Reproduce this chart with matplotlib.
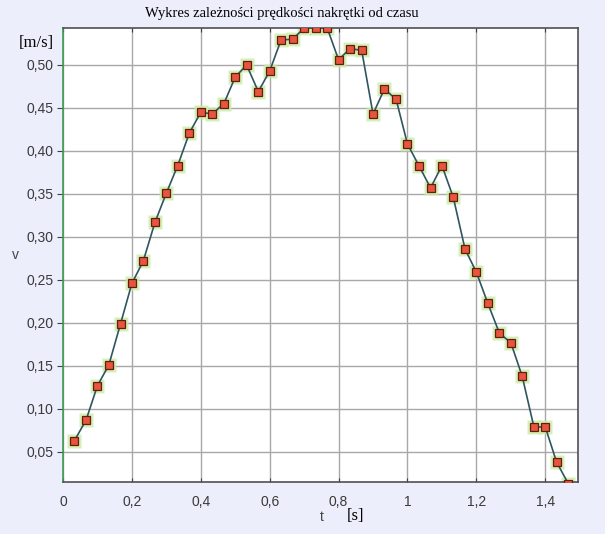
import matplotlib
matplotlib.use('Agg')
import matplotlib.pyplot as plt

# czas [s] i predkosc [m/s]
t = [0.033, 0.067, 0.100, 0.133, 0.167, 0.200, 0.233, 0.267, 0.300, 0.333,
     0.367, 0.400, 0.433, 0.467, 0.500, 0.533, 0.567, 0.600, 0.633, 0.667,
     0.700, 0.733, 0.767, 0.800, 0.833, 0.867, 0.900, 0.933, 0.967, 1.000,
     1.033, 1.067, 1.100, 1.133, 1.167, 1.200, 1.233, 1.267, 1.300, 1.333,
     1.367, 1.400, 1.433, 1.467]
v = [0.063, 0.087, 0.127, 0.151, 0.199, 0.246, 0.272, 0.317, 0.351, 0.383,
     0.421, 0.445, 0.443, 0.455, 0.486, 0.500, 0.469, 0.493, 0.529, 0.530,
     0.543, 0.543, 0.543, 0.506, 0.519, 0.517, 0.443, 0.472, 0.460, 0.408,
     0.383, 0.357, 0.383, 0.346, 0.286, 0.259, 0.223, 0.188, 0.177, 0.138,
     0.079, 0.079, 0.038, 0.013]

xticks = [0, 0.2, 0.4, 0.6, 0.8, 1.0, 1.2, 1.4]
yticks = [0.05, 0.10, 0.15, 0.20, 0.25, 0.30, 0.35, 0.40, 0.45, 0.50]

bg = '#ECEEFB'
fig = plt.figure(figsize=(6.05, 5.34), dpi=100, facecolor=bg)
ax = fig.add_axes([63/605, 1 - 482/534, (578 - 63)/605, (482 - 28)/534])
ax.set_facecolor('white')

# zielona poswiata pod znacznikami
ax.plot(t, v, ls='none', marker='s', ms=10.5, mfc='#B6F0A4', mec='none',
        alpha=0.7, zorder=2)
ax.plot(t, v, ls='none', marker='s', ms=8, mfc='#EEE6A4', mec='none',
        alpha=0.6, zorder=2)
ax.plot(t, v, color='#2F5560', lw=1.2, zorder=3)
ax.plot(t, v, ls='none', marker='s', ms=5.5, mfc='#E8543C', mec='#5A2015',
        mew=0.9, zorder=4)

ax.set_xlim(0, 1.495)
ax.set_ylim(0.015, 0.543)
ax.set_xticks(xticks)
ax.set_yticks(yticks)
ax.set_xticklabels([('%g' % x).replace('.', ',') for x in xticks])
ax.set_yticklabels([('%.2f' % y).replace('.', ',') for y in yticks])
ax.grid(True, color='#A8A8A8', lw=1)
ax.set_axisbelow(True)

ax.tick_params(axis='x', direction='in', length=3, pad=9, labelsize=10,
               labelcolor='#3A3A3A', color='#404040', top=True)
ax.tick_params(axis='y', direction='out', length=4, pad=3, labelsize=10,
               labelcolor='#3A3A3A', color='#404040')
for tl in ax.get_xticklabels() + ax.get_yticklabels():
    tl.set_family('Liberation Sans')

for s in ['top', 'right', 'bottom']:
    ax.spines[s].set_color('#505050')
    ax.spines[s].set_linewidth(1.2)
ax.spines['left'].set_color('#3C9A55')
ax.spines['left'].set_linewidth(1.2)

fig.text(282/605, 1 - 14/534, 'Wykres zależności prędkości nakrętki od czasu',
         ha='center', va='center', family='Liberation Serif', fontsize=10.5)
fig.text(36/605, 1 - 43/534, '[m/s]', ha='center', va='center',
         family='Liberation Serif', fontsize=12)
fig.text(355/605, 1 - 516/534, '[s]', ha='center', va='center',
         family='Liberation Serif', fontsize=12)
fig.text(322/605, 1 - 517/534, 't', ha='center', va='center',
         family='Liberation Sans', fontsize=10, color='#444444')
fig.text(15/605, 1 - 255/534, 'v', ha='center', va='center',
         family='Liberation Sans', fontsize=10, color='#444444')

fig.savefig('out.png', dpi=100, facecolor=bg)
